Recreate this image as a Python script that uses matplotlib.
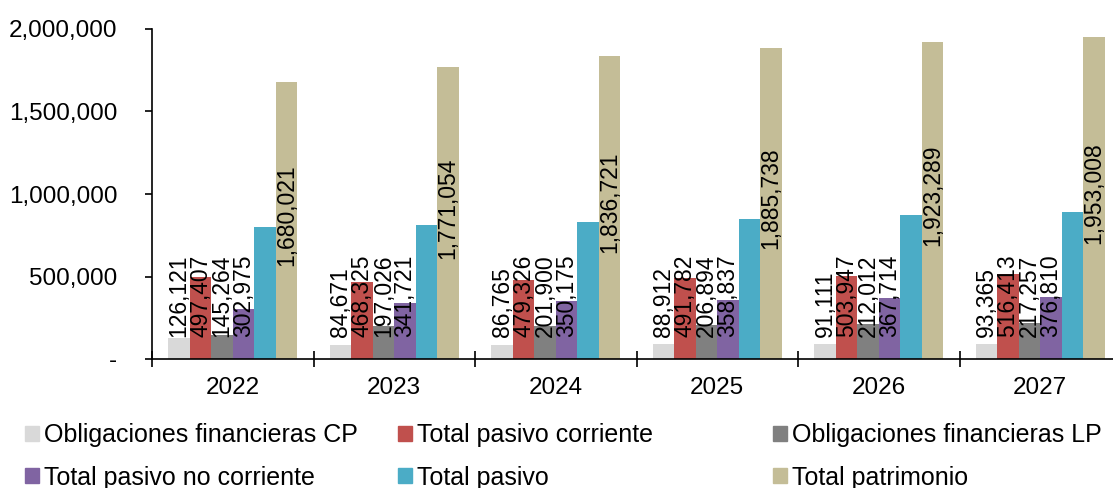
import numpy as np
import matplotlib.pyplot as plt
from matplotlib.patches import Patch
from matplotlib.ticker import FuncFormatter

plt.rcParams['font.family'] = ['Liberation Sans', 'DejaVu Sans']

years = ['2022', '2023', '2024', '2025', '2026', '2027']
series = ['Obligaciones financieras CP', 'Total pasivo corriente',
          'Obligaciones financieras LP', 'Total pasivo no corriente',
          'Total pasivo', 'Total patrimonio']
colors = ['#D9D9D9', '#C0504D', '#808080', '#8064A2', '#4BACC6', '#C4BD97']

oblig_cp = [126121, 84671, 86765, 88912, 91111, 93365]
pasivo_corr = [497407, 468325, 479326, 491782, 503947, 516413]
oblig_lp = [145264, 197026, 201900, 206894, 212012, 217257]
pasivo_no_corr = [302975, 341721, 350175, 358837, 367714, 376810]
total_pasivo = [800382, 810046, 829501, 850619, 871661, 893223]
patrimonio = [1680021, 1771054, 1836721, 1885738, 1923289, 1953008]

data = [oblig_cp, pasivo_corr, oblig_lp, pasivo_no_corr, total_pasivo, patrimonio]

fig = plt.figure(figsize=(11.13, 4.88), dpi=100)
ax = fig.add_axes([152 / 1113, 129 / 488, 969 / 1113, 330 / 488])

x = np.arange(len(years))
w = 0.133
fs = 17.5
fs_lbl = 16.5
for i, (vals, c) in enumerate(zip(data, colors)):
    pos = x + (i - 2.5) * w
    ax.bar(pos, vals, width=w, color=c, label=series[i], zorder=2)
    if i == 4:
        continue  # total pasivo sin etiqueta
    for p, v in zip(pos, vals):
        txt = f'{v:,}'
        if i == 5:
            ax.text(p, v / 2 + 30000, txt, rotation=90, ha='center', va='center',
                    fontsize=fs_lbl, zorder=3)
        else:
            ax.text(p, 135000, txt, rotation=90, ha='center', va='bottom',
                    fontsize=fs_lbl, zorder=3)

ax.set_xlim(-0.5, 5.5)
ax.set_ylim(0, 2000000)
ax.set_yticks(np.arange(0, 2000001, 500000))
ax.yaxis.set_major_formatter(FuncFormatter(lambda v, _: '-' if v == 0 else f'{int(v):,}'))
ax.tick_params(axis='y', labelsize=fs, length=5, width=1.2, direction='out', pad=20)

ax.set_xticks(np.arange(-0.5, 6, 1))
ax.set_xticklabels([])
ax.set_xticks(x, minor=True)
ax.set_xticklabels(years, minor=True)
ax.tick_params(axis='x', which='major', length=12, width=1.2, direction='inout')
ax.tick_params(axis='x', which='minor', length=0, labelsize=fs, pad=13)

for s in ['top', 'right']:
    ax.spines[s].set_visible(False)
ax.spines['left'].set_linewidth(1.2)
ax.spines['bottom'].set_linewidth(1.2)

handles = [Patch(color=c) for c in colors]
cols_x = [25, 398, 773]
for k in range(3):
    idx = [k, k + 3]
    fig.legend([handles[j] for j in idx], [series[j] for j in idx],
               loc='upper left', bbox_to_anchor=(cols_x[k] / 1113, 1 - 423 / 488),
               frameon=False, fontsize=18, handlelength=0.55, handleheight=0.55,
               handletextpad=0.2, labelspacing=0.75, borderpad=0, borderaxespad=0)

fig.savefig('out.png', dpi=100)
